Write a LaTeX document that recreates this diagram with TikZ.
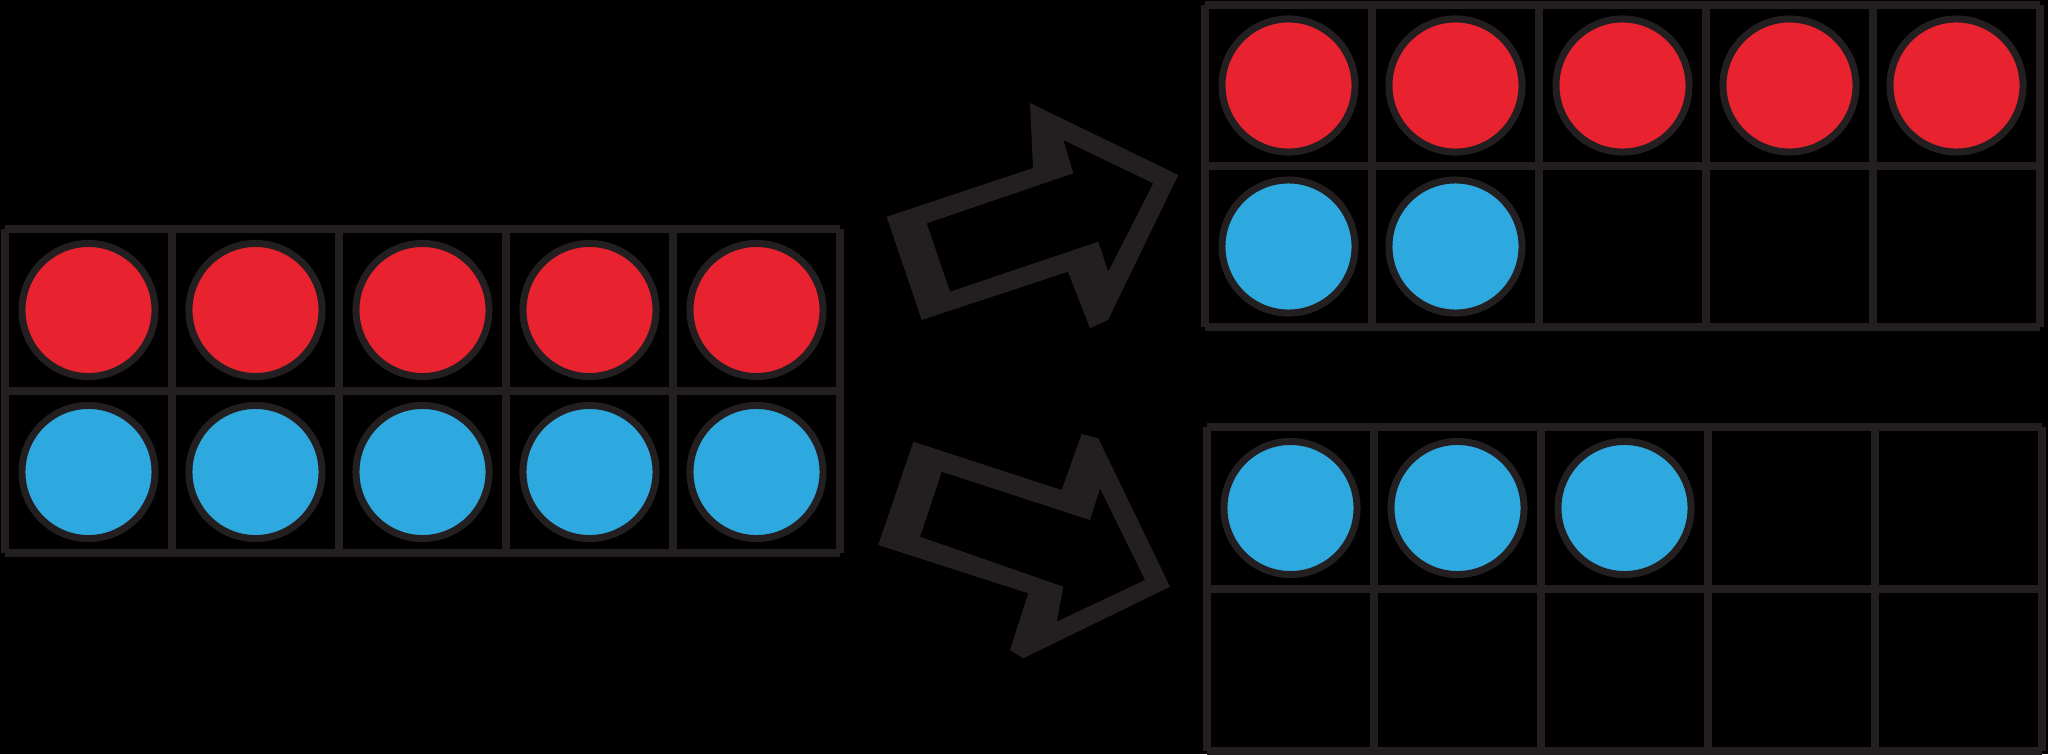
\documentclass[tikz,border=0pt]{standalone}
\usetikzlibrary{calc}
\definecolor{ink}{HTML}{231F20}
\definecolor{cred}{HTML}{E8222F}
\definecolor{cblue}{HTML}{2EA9DF}
\tikzset{
  gridline/.style={draw=ink, line width=0.08cm},
  counter/.style={circle, draw=ink, line width=0.07cm, minimum size=1.33cm, inner sep=0pt},
  redc/.style={counter, fill=cred},
  bluec/.style={counter, fill=cblue},
  bigarrow/.style={fill=ink, even odd rule}
}
\begin{document}
\begin{tikzpicture}[x=0.01cm,y=-0.01cm]
\fill[black] (0,0) rectangle (2048,754);
\useasboundingbox (0,0) rectangle (2048,754);
% left frame
\foreach \i in {0,...,5} \draw[gridline] (5+167*\i,229) -- (5+167*\i,553);
\foreach \j in {0,1,2} \draw[gridline] (5,229+162*\j) -- (840,229+162*\j);
\foreach \i in {0,...,4} {
  \node[redc] (L1\i) at (88.5+167*\i,310) {};
  \node[bluec] (L2\i) at (88.5+167*\i,472) {};
}
% top right frame
\foreach \i in {0,...,5} \draw[gridline] (1205+167*\i,5) -- (1205+167*\i,327);
\foreach \j in {0,1,2} \draw[gridline] (1205,5+161*\j) -- (2040,5+161*\j);
\foreach \i in {0,...,4} \node[redc] (T1\i) at (1288.5+167*\i,85.5) {};
\foreach \i in {0,1} \node[bluec] (T2\i) at (1288.5+167*\i,246.5) {};
% bottom right frame
\foreach \i in {0,...,5} \draw[gridline] (1207+167*\i,427) -- (1207+167*\i,751);
\foreach \j in {0,1,2} \draw[gridline] (1207,427+162*\j) -- (2042,427+162*\j);
\foreach \i in {0,1,2} \node[bluec] (B1\i) at (1290.5+167*\i,508) {};
% top arrow
\fill[bigarrow]
  (886.7,216.7) -- (921.7,320) -- (1068,271.7) -- (1090,328.3) -- (1108,320) -- (1178.3,175) -- (1030,103) -- (1033,168) -- cycle
  (926.7,223.3) -- (950,291.7) -- (1098.3,241.7) -- (1108.3,271.7) -- (1153.3,183.3) -- (1063.3,140) -- (1073.3,173.3) -- cycle;
% bottom arrow
\fill[bigarrow]
  (913.3,441.7) -- (1061.7,490) -- (1081.7,434) -- (1098.3,438.3) -- (1170,586.7) -- (1023.3,658.3) -- (1010,650) -- (1028.3,593.3) -- (878.3,545) -- cycle
  (941.7,471.7) -- (920,536.7) -- (1063.3,586.7) -- (1056.7,621.7) -- (1145,580) -- (1100,488.3) -- (1090,520) -- cycle;
\end{tikzpicture}
\end{document}
